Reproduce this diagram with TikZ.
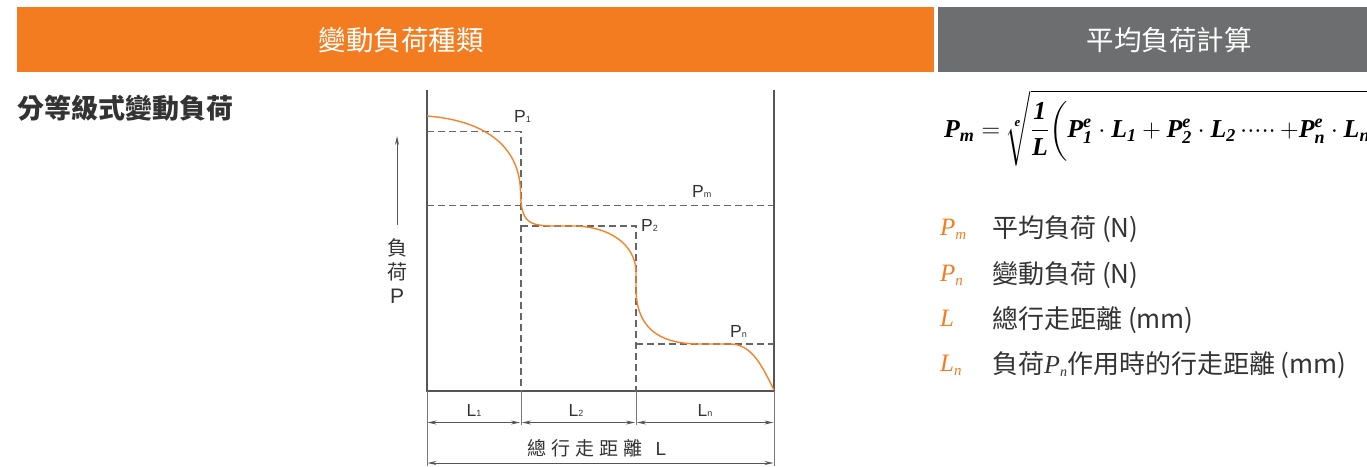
\RequirePackage{fix-cm}
\documentclass[tikz,border=0pt]{standalone}
\usepackage{amsmath}
\usepackage{fontspec}
\setmainfont{Noto Sans CJK TC}
\newfontfamily\serifface{Liberation Serif}
\newfontfamily\arialface{Liberation Sans}
\usetikzlibrary{arrows.meta}
\definecolor{hdrorange}{RGB}{243,124,33}
\definecolor{hdrgray}{RGB}{109,110,112}
\definecolor{txtdark}{RGB}{51,51,51}
\definecolor{linegray}{RGB}{85,85,85}
\definecolor{curveorange}{RGB}{245,130,40}
\tikzset{
  axisline/.style={draw=linegray,line width=1.5pt},
  dashline/.style={draw=linegray!90,line width=1.2pt,dash pattern=on 7pt off 4pt},
  tickline/.style={draw=linegray!80,line width=1pt},
  dimarrow/.style={draw=linegray,line width=0.9pt,{Stealth[length=9pt,width=4pt]}-{Stealth[length=9pt,width=4pt]}},
  lbl/.style={text=txtdark,inner sep=0pt,font=\arialface\fontsize{17.5}{18}\selectfont},
  legsym/.style={text=hdrorange,inner sep=0pt,anchor=west},
  legtxt/.style={text=txtdark,inner sep=0pt,anchor=west,font=\fontsize{26}{28}\selectfont},
  hdrtxt/.style={text=white,font=\fontsize{27.5}{30}\selectfont},
}
\newcommand{\smallsub}[1]{{\fontsize{9}{9}\selectfont #1}}
\newcommand{\legP}[1]{{\serifface\itshape\fontsize{25}{25}\selectfont P\raisebox{-4pt}{\fontsize{15}{15}\selectfont #1}}}
\newcommand{\legL}[1]{{\serifface\itshape\fontsize{25}{25}\selectfont L\raisebox{-4pt}{\fontsize{15}{15}\selectfont #1}}}
\newcommand{\fivedots}{{\cdot}{\cdot}{\cdot}{\cdot}{\cdot}}
\newcommand{\bi}[1]{\text{\serifface\bfseries\itshape #1}}
\newcommand{\avgformula}{\hbox{\fontsize{25.8}{31}\selectfont$\displaystyle \bi{P}_{\bi{m}}=\sqrt[\bi{e}]{\frac{\bi{1}}{\bi{L}}\biggl(\bi{P}^{\bi{e}}_{\bi{1}}\cdot \bi{L}_{\bi{1}}+\bi{P}^{\bi{e}}_{\bi{2}}\cdot \bi{L}_{\bi{2}}\,\fivedots\,{+}\bi{P}^{\bi{e}}_{\bi{n}}\cdot \bi{L}_{\bi{n}}\qquad}$}}
\begin{document}
\begin{tikzpicture}[x=1pt,y=-1pt]
\useasboundingbox (0,0) rectangle (1367,466);
% headers
\fill[hdrorange] (17,7) rectangle (934,72);
\fill[hdrgray] (938,7) rectangle (1367,72);
\node[hdrtxt] (h1) at (401,40) {變動負荷種類};
\node[hdrtxt] (h2) at (1169,40) {平均負荷計算};
% left title
\node[text=txtdark,anchor=west,inner sep=0pt,font=\bfseries\fontsize{27}{30}\selectfont] (title) at (17,108) {分等級式變動負荷};
% axes
\coordinate (tl) at (427,90);
\coordinate (bl) at (427,391);
\coordinate (tr) at (774,90);
\coordinate (br) at (774,391);
\draw[axisline] (tl) -- (bl) -- (br) -- (tr);
% dashed guides
\coordinate (p1a) at (427,131.5);
\coordinate (p1b) at (521,131.5);
\coordinate (x1b) at (521,391);
\coordinate (pma) at (427,205.5);
\coordinate (pmb) at (774,205.5);
\coordinate (p2a) at (521,226);
\coordinate (p2b) at (636,226);
\coordinate (x2b) at (636,391);
\coordinate (pna) at (636,344);
\coordinate (pnb) at (774,344);
\draw[dashline] (p1a) -- (p1b) -- (x1b);
\draw[dashline] (pma) -- (pmb);
\draw[dashline] (p2a) -- (p2b) -- (x2b);
\draw[dashline] (pna) -- (pnb);
% curve
\draw[curveorange,line width=1.4pt]
  (427,116) .. controls (490,121) and (520,150) .. (520.5,192)
  .. controls (521,222) and (528,226) .. (555,226)
  -- (578,226)
  .. controls (620,229) and (636,252) .. (636,272)
  -- (636,292)
  .. controls (638,335) and (668,344) .. (700,344)
  -- (730,344)
  .. controls (752,344) and (762,366) .. (774,390);
% labels on graph
\node[lbl,anchor=base west] (lp1) at (514,122) {P\smallsub{1}};
\node[lbl,anchor=base west] (lpm) at (692,197) {P\smallsub{m}};
\node[lbl,anchor=base west] (lp2) at (641,231) {P\smallsub{2}};
\node[lbl,anchor=base west] (lpn) at (730,337) {P\smallsub{n}};
% vertical load arrow
\coordinate (va) at (397,225);
\coordinate (vb) at (397,136);
\draw[draw=linegray,line width=1pt,-{Stealth[length=9pt,width=4pt]}] (va) -- (vb);
\node[text=txtdark,inner sep=0pt,font=\fontsize{20}{20}\selectfont] (fu) at (397,248) {負};
\node[text=txtdark,inner sep=0pt,font=\fontsize{20}{20}\selectfont] (he) at (397,272) {荷};
\node[text=txtdark,inner sep=0pt,font=\arialface\fontsize{21}{21}\selectfont] (pp) at (397,296) {P};
% ticks below
\coordinate (t0) at (427,466);
\coordinate (t1) at (521,425);
\coordinate (t2) at (636,425);
\coordinate (t3) at (774,466);
\draw[tickline] (bl) -- (t0);
\draw[tickline] (x1b) -- (t1);
\draw[tickline] (x2b) -- (t2);
\draw[tickline] (br) -- (t3);
% dimension arrows
\coordinate (d0) at (427.5,422.5);
\coordinate (d1) at (521,422.5);
\coordinate (d2) at (636,422.5);
\coordinate (d3) at (773.5,422.5);
\draw[dimarrow] (d0) -- ([xshift=-1pt]d1);
\draw[dimarrow] ([xshift=1pt]d1) -- ([xshift=-1pt]d2);
\draw[dimarrow] ([xshift=1pt]d2) -- (d3);
\coordinate (e0) at (427.5,463);
\coordinate (e1) at (773.5,463);
\draw[dimarrow] (e0) -- (e1);
\node[lbl,anchor=base] (l1) at (474,416) {L\smallsub{1}};
\node[lbl,anchor=base] (l2) at (576,416) {L\smallsub{2}};
\node[lbl,anchor=base] (ln) at (705,416) {L\smallsub{n}};
\node[text=txtdark,inner sep=0pt,font=\fontsize{19}{19}\selectfont] (tot) at (597,448) {總\hspace{5pt}行\hspace{5pt}走\hspace{5pt}距\hspace{5pt}離\hspace{13pt}{\arialface L}};
% formula
\node[anchor=west,inner sep=0pt,text=black] (formula) at (944,128) {\avgformula};
% legend
\node[legsym] (s1) at (940,229) {\legP{m}};
\node[legtxt] (t1txt) at (992,229) {平均負荷 (N)};
\node[legsym] (s2) at (940,275) {\legP{n}};
\node[legtxt] (t2txt) at (992,275) {變動負荷 (N)};
\node[legsym] (s3) at (940,320) {\legL{}};
\node[legtxt] (t3txt) at (992,320) {總行走距離 (mm)};
\node[legsym] (s4) at (940,365) {\legL{n}};
\node[legtxt] (t4txt) at (992,365) {負荷{\serifface\itshape P\raisebox{-3pt}{\fontsize{14}{14}\selectfont n}}作用時的行走距離 (mm)};
\end{tikzpicture}
\end{document}
